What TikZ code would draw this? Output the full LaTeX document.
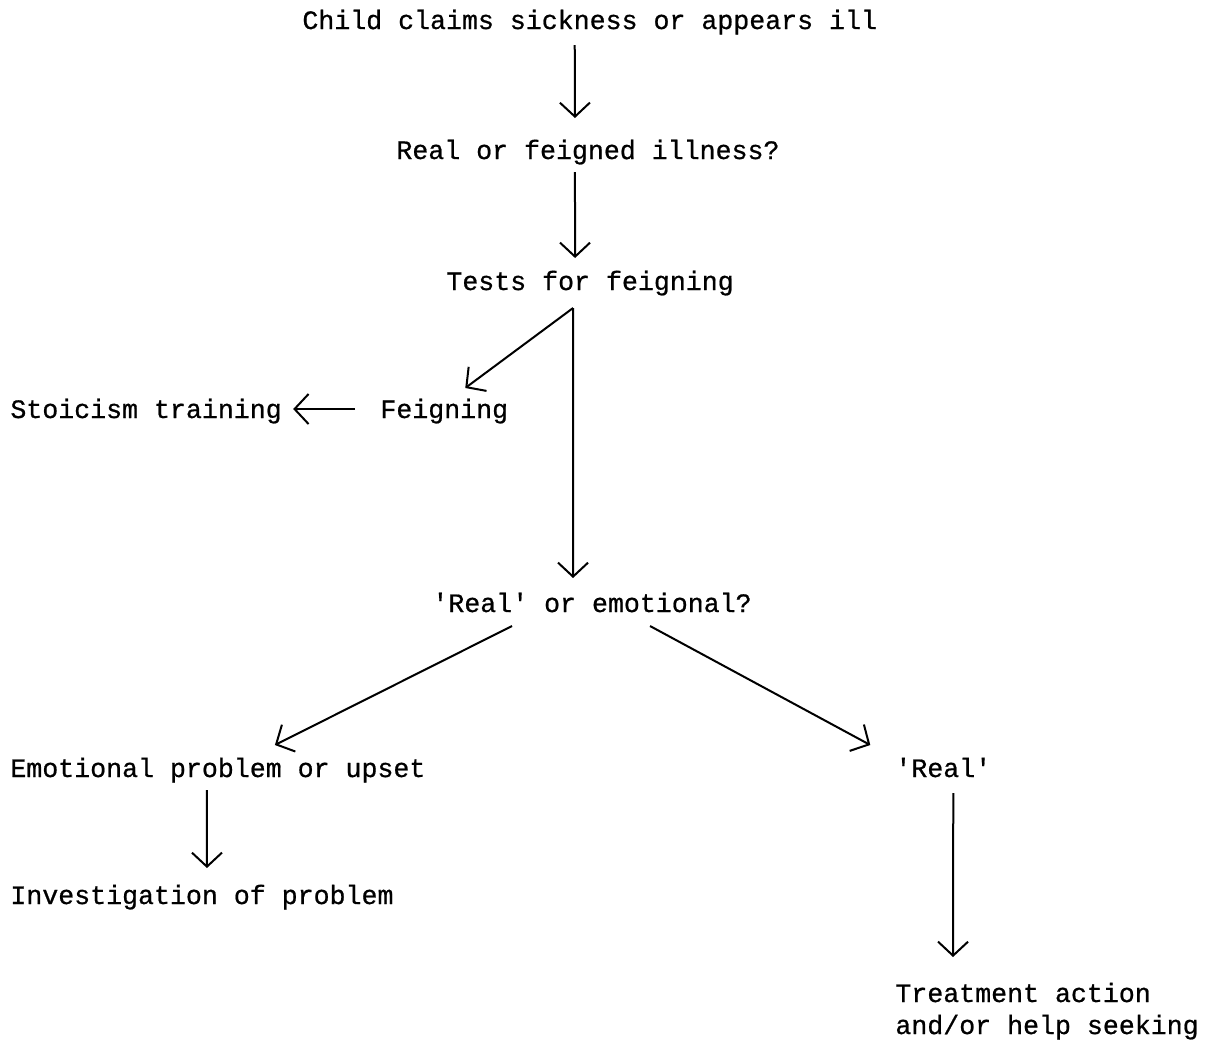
\documentclass[tikz,border=0pt]{standalone}
\usepackage{fontspec}
\usepackage{tikz}
\usetikzlibrary{arrows.meta,calc}
\newfontfamily\typewr[BoldFont={Liberation Mono},BoldFeatures={FakeBold=0.7}]{Liberation Mono}

\begin{document}
\begin{tikzpicture}[
  x=0.5pt,y=-0.5pt,
  txt/.style={inner sep=0pt,anchor=base west,font=\typewr\bfseries\fontsize{13.3}{16}\selectfont},
  arr/.style={-{Straight Barb[length=7pt,width=15pt]},line width=1pt}
]
\useasboundingbox (0,0) rectangle (1214,1041);
\node[txt] (child) at (302,29) {Child claims sickness or appears ill};
\node[txt] (realfeign) at (396,159) {Real or feigned illness?};
\node[txt] (tests) at (446,290) {Tests for feigning};
\node[txt] (feigning) at (380,418) {Feigning};
\node[txt] (stoic) at (10,418) {Stoicism training};
\node[txt] (realemo) at (432,612) {'Real' or emotional?};
\node[txt] (emotional) at (10,777) {Emotional problem or upset};
\node[txt] (real) at (895,777) {'Real'};
\node[txt] (invest) at (10,904) {Investigation of problem};
\node[txt,align=left] (treat) at (895,1034) {Treatment action\\and/or help seeking};

\draw[arr] ($(child.base)+(-15,16)$) -- ($(realfeign.base)+(-13,-41)$);
\draw[arr] ($(realfeign.base)+(-13,13)$) -- ($(tests.base)+(-15,-32)$);
\draw[arr] ($(tests.base)+(-17,18)$) -- ($(feigning.base)+(21,-30)$);
\draw[arr] ($(tests.base)+(-17,18)$) -- ($(realemo.base)+(-19,-34)$);
\draw[arr] ($(feigning.base west)+(-25,-9)$) -- ($(stoic.base east)+(11,-9)$);
\draw[arr] ($(realemo.base)+(-80,14)$) -- ($(emotional.base)+(57,-32)$);
\draw[arr] ($(realemo.base)+(58,14)$) -- ($(real.base)+(-73,-32)$);
\draw[arr] ($(emotional.base)+(-11,13)$) -- ($(invest.base)+(5,-36)$);
\draw[arr] ($(real.base)+(10,16)$) -- ($(treat.base west)+(58,-77)$);
\end{tikzpicture}
\end{document}
